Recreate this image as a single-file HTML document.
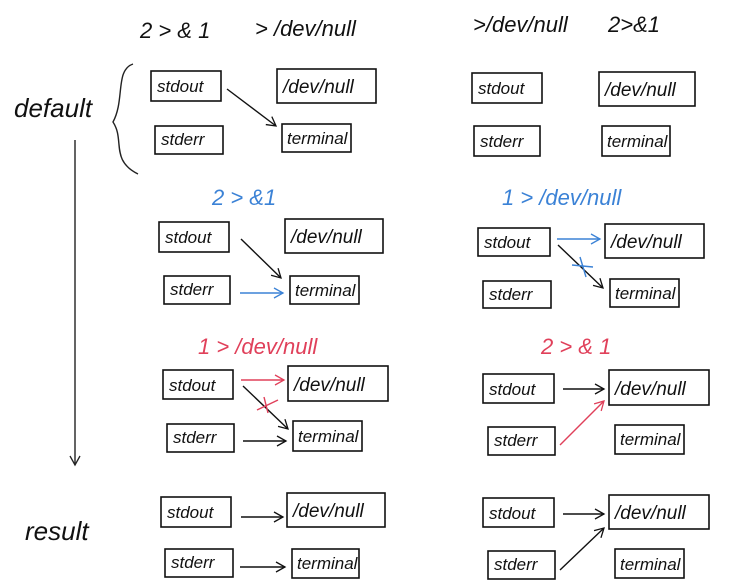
<!DOCTYPE html>
<html><head><meta charset="utf-8"><style>
html,body{margin:0;padding:0;background:#fff;}
svg{display:block;}
text{font-family:"Liberation Sans",sans-serif;font-style:italic;}
</style></head><body>
<svg width="740" height="588" viewBox="0 0 740 588" xmlns="http://www.w3.org/2000/svg">
<defs>
<marker id="ak" markerWidth="12" markerHeight="12" refX="10" refY="6" orient="auto" markerUnits="userSpaceOnUse"><path d="M1,1 L10,6 L1,11" fill="none" stroke="#111" stroke-width="1.3"/></marker>
<marker id="ab" markerWidth="12" markerHeight="12" refX="10" refY="6" orient="auto" markerUnits="userSpaceOnUse"><path d="M1,1 L10,6 L1,11" fill="none" stroke="#3b82d6" stroke-width="1.3"/></marker>
<marker id="ar" markerWidth="12" markerHeight="12" refX="10" refY="6" orient="auto" markerUnits="userSpaceOnUse"><path d="M1,1 L10,6 L1,11" fill="none" stroke="#e0405a" stroke-width="1.3"/></marker>
<marker id="av" markerWidth="12" markerHeight="12" refX="10" refY="6" orient="auto" markerUnits="userSpaceOnUse"><path d="M1,1 L10,6 L1,11" fill="none" stroke="#222" stroke-width="1.3"/></marker>
</defs>
<g fill="none" stroke="#111" stroke-width="1.6">
<rect x="151" y="71" width="70" height="30"/><rect x="277" y="69" width="99" height="34"/><rect x="155" y="126" width="68" height="28"/><rect x="282" y="124" width="69" height="28"/>
<rect x="159" y="222" width="70" height="30"/><rect x="285" y="219" width="98" height="34"/><rect x="164" y="276" width="66" height="28"/><rect x="290" y="276" width="69" height="28"/>
<rect x="163" y="370" width="70" height="29"/><rect x="288" y="366" width="100" height="35"/><rect x="167" y="424" width="67" height="28"/><rect x="293" y="421" width="69" height="30"/>
<rect x="161" y="497" width="70" height="30"/><rect x="287" y="493" width="98" height="34"/><rect x="165" y="549" width="68" height="28"/><rect x="292" y="549" width="67" height="29"/>
<rect x="472" y="73" width="70" height="30"/><rect x="599" y="72" width="96" height="34"/><rect x="474" y="126" width="66" height="30"/><rect x="602" y="126" width="68" height="30"/>
<rect x="478" y="228" width="72" height="28"/><rect x="605" y="224" width="99" height="34"/><rect x="483" y="281" width="68" height="27"/><rect x="610" y="279" width="69" height="28"/>
<rect x="483" y="374" width="71" height="29"/><rect x="609" y="370" width="100" height="35"/><rect x="488" y="427" width="67" height="28"/><rect x="615" y="425" width="69" height="29"/>
<rect x="483" y="498" width="71" height="29"/><rect x="609" y="495" width="100" height="34"/><rect x="488" y="551" width="67" height="28"/><rect x="615" y="549" width="69" height="29"/>
</g>
<g font-size="17" fill="#111">
<text x="157" y="92">stdout</text><text x="283" y="93" font-size="19">/dev/null</text><text x="161" y="145">stderr</text><text x="287" y="144">terminal</text>
<text x="165" y="243">stdout</text><text x="291" y="243" font-size="19">/dev/null</text><text x="170" y="295">stderr</text><text x="295" y="296">terminal</text>
<text x="169" y="391">stdout</text><text x="294" y="391" font-size="19">/dev/null</text><text x="173" y="443">stderr</text><text x="298" y="442">terminal</text>
<text x="167" y="518">stdout</text><text x="293" y="517" font-size="19">/dev/null</text><text x="171" y="568">stderr</text><text x="297" y="569">terminal</text>
<text x="478" y="94">stdout</text><text x="605" y="96" font-size="19">/dev/null</text><text x="480" y="147">stderr</text><text x="607" y="147">terminal</text>
<text x="484" y="248">stdout</text><text x="611" y="248" font-size="19">/dev/null</text><text x="489" y="300">stderr</text><text x="615" y="299">terminal</text>
<text x="489" y="395">stdout</text><text x="615" y="395" font-size="19">/dev/null</text><text x="494" y="446">stderr</text><text x="620" y="445">terminal</text>
<text x="489" y="519">stdout</text><text x="615" y="519" font-size="19">/dev/null</text><text x="494" y="570">stderr</text><text x="620" y="570">terminal</text>
</g>
<g font-size="22" fill="#111">
<text x="140" y="38">2 &gt; &amp; 1</text><text x="255" y="36">&gt; /dev/null</text>
<text x="473" y="32">&gt;/dev/null</text><text x="608" y="32">2&gt;&amp;1</text>
<text x="14" y="117" font-size="26">default</text>
<text x="25" y="540" font-size="26">result</text>
</g>
<text x="212" y="205" font-size="22" fill="#3b82d6">2 &gt; &amp;1</text>
<text x="502" y="205" font-size="22" fill="#3b82d6">1 &gt; /dev/null</text>
<text x="198" y="354" font-size="22" fill="#e0405a">1 &gt; /dev/null</text>
<text x="541" y="354" font-size="22" fill="#e0405a">2 &gt; &amp; 1</text>
<g fill="none" stroke-width="1.4">
<path d="M133,64 C115,70 125,100 113,122 C125,140 110,160 138,174" stroke="#222"/>
<line x1="75" y1="140" x2="75" y2="465" stroke="#222" marker-end="url(#av)"/>
<line x1="227" y1="89" x2="276" y2="126" stroke="#111" marker-end="url(#ak)"/>
<line x1="241" y1="239" x2="281" y2="278" stroke="#111" marker-end="url(#ak)"/>
<line x1="240" y1="293" x2="283" y2="293" stroke="#3b82d6" marker-end="url(#ab)"/>
<line x1="557" y1="239" x2="600" y2="239" stroke="#3b82d6" marker-end="url(#ab)"/>
<line x1="558" y1="245" x2="603" y2="288" stroke="#111" marker-end="url(#ak)"/>
<line x1="572" y1="265" x2="593" y2="267" stroke="#3b82d6"/><line x1="580" y1="257" x2="586" y2="277" stroke="#3b82d6"/>
<line x1="241" y1="380" x2="284" y2="380" stroke="#e0405a" marker-end="url(#ar)"/>
<line x1="243" y1="386" x2="288" y2="429" stroke="#111" marker-end="url(#ak)"/>
<line x1="257" y1="410" x2="278" y2="400" stroke="#e0405a"/><line x1="264" y1="397" x2="268" y2="413" stroke="#e0405a"/>
<line x1="243" y1="441" x2="286" y2="441" stroke="#111" marker-end="url(#ak)"/>
<line x1="563" y1="389" x2="604" y2="389" stroke="#111" marker-end="url(#ak)"/>
<line x1="560" y1="445" x2="604" y2="401" stroke="#e0405a" marker-end="url(#ar)"/>
<line x1="241" y1="517" x2="283" y2="517" stroke="#111" marker-end="url(#ak)"/>
<line x1="240" y1="567" x2="285" y2="567" stroke="#111" marker-end="url(#ak)"/>
<line x1="563" y1="514" x2="604" y2="514" stroke="#111" marker-end="url(#ak)"/>
<line x1="560" y1="570" x2="604" y2="528" stroke="#111" marker-end="url(#ak)"/>
</g>
</svg>
</body></html>
